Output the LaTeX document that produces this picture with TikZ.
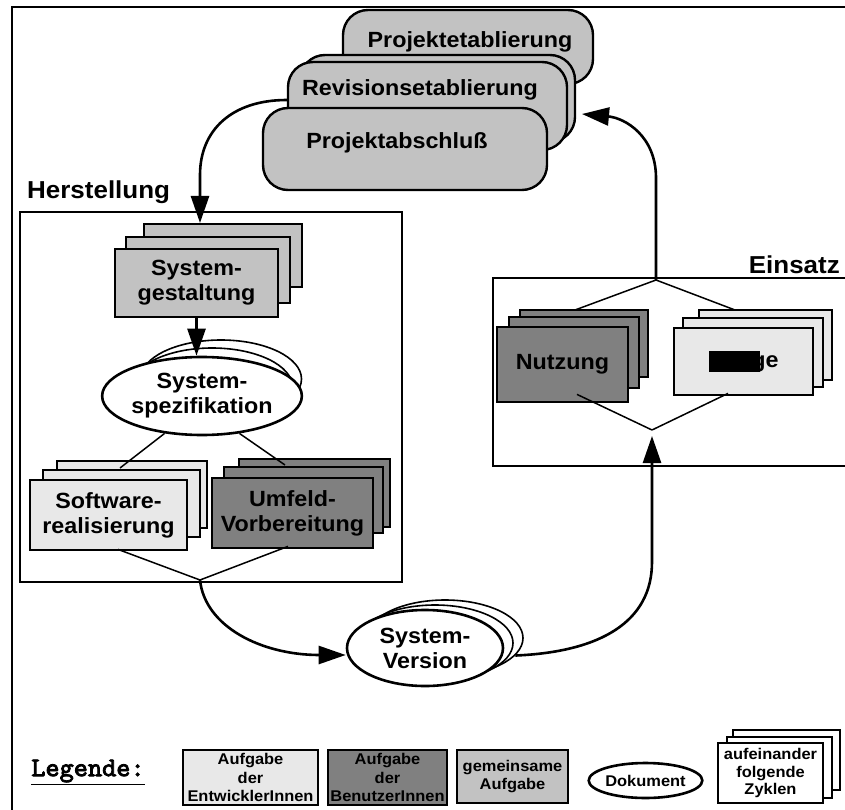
\documentclass[tikz,border=0pt]{standalone}
\usepackage{fontspec}
\setmainfont{Liberation Sans}[FakeStretch=1.06]
\newfontfamily\legmono{lmmono10-regular.otf}[AutoFakeBold=3]
\usetikzlibrary{arrows.meta,shapes.geometric}
\definecolor{cLight}{gray}{0.91}
\definecolor{cDark}{gray}{0.5}
\definecolor{cMid}{gray}{0.76}
\begin{document}
\begin{tikzpicture}[x=1pt,y=-1pt,
  txt/.style={font=\fontsize{22}{25}\selectfont\bfseries,align=center,inner sep=0pt},
  bigtxt/.style={font=\fontsize{24.5}{28}\selectfont\bfseries,inner sep=0pt},
  rbox/.style={draw,fill=cMid,rounded corners=25pt,line width=2.4pt,inner sep=0pt},
  front/.style={draw,line width=2.8pt,inner sep=0pt,align=center,
     font=\fontsize{22}{25}\selectfont\bfseries},
  backrect/.style={draw,line width=1.8pt},
  ellfront/.style={draw,fill=white,ellipse,line width=2.6pt,inner sep=0pt,align=center,
     font=\fontsize{22}{25}\selectfont\bfseries},
  ellback/.style={draw,fill=white,ellipse,line width=1.6pt,inner sep=0pt},
  frame/.style={draw,line width=1.7pt},
  conn/.style={draw,line width=1.5pt},
  arr/.style={draw,line width=2.6pt,-{Triangle[length=27pt,width=18pt]}},
  legbox/.style={draw,line width=2.6pt,inner sep=0pt,align=center,
     font=\fontsize{15.5}{18.5}\selectfont\bfseries}
]
\useasboundingbox (0,0) rectangle (845,810);
\fill[white] (0,0) rectangle (845,810);

% outer frame
\draw[line width=2pt] (12,812) -- (12,7) -- (850,7);

% ---- top rounded boxes
\node[rbox,minimum width=250,minimum height=74] (pe) at (468,47) {};
\node[txt] (pet) at (470,42) {Projektetablierung};
\node[rbox,minimum width=275,minimum height=87] (reb) at (437.5,98.5) {};
\node[rbox,minimum width=279,minimum height=88] (re) at (427.5,106) {};
\node[txt] (ret) at (420,90) {Revisionsetablierung};
\node[rbox,minimum width=284,minimum height=82] (pa) at (405,149) {};
\node[txt] (pat) at (397,143) {Projektabschluß};

% ---- Herstellung
\node[bigtxt,anchor=west] (hlab) at (27,192) {Herstellung};
\draw[frame] (20,212) rectangle (402,582);

% Systemgestaltung stack
\draw[backrect,fill=cMid] (144,224) rectangle (302,287);
\draw[backrect,fill=cMid] (126,237) rectangle (290,303);
\node[front,fill=cMid,minimum width=163,minimum height=68] (sg) at (196.5,283) {System-\\gestaltung};

% Systemspezifikation
\node[ellback,minimum width=161,minimum height=78] (spb2) at (221,379) {};
\node[ellback,minimum width=161,minimum height=78] (spb1) at (212,387) {};
\node[ellfront,minimum width=161,minimum height=78] (spec) at (202,396) {System-\\spezifikation};

% Softwarerealisierung stack
\draw[backrect,fill=cLight] (57,461) rectangle (207,528);
\draw[backrect,fill=cLight] (43,470) rectangle (200,537);
\node[front,fill=cLight,minimum width=157,minimum height=70] (sr) at (108.5,515) {Software-\\realisierung};

% Umfeld-Vorbereitung stack
\draw[backrect,fill=cDark] (239,459) rectangle (390,527);
\draw[backrect,fill=cDark] (224,467) rectangle (383,533);
\node[front,fill=cDark,minimum width=161,minimum height=70] (uv) at (292.5,513) {Umfeld-\\Vorbereitung};

% ---- Einsatz
\node[bigtxt,anchor=east] (elab) at (840,265) {Einsatz};
\draw[frame] (493,278) rectangle (860,466);

% Nutzung stack
\draw[backrect,fill=cDark] (520,310) rectangle (648,377);
\draw[backrect,fill=cDark] (509,317) rectangle (639,388);
\node[front,fill=cDark,minimum width=131,minimum height=75] (nu) at (562.5,364.5) {Nutzung};

% Pflege stack
\draw[backrect,fill=cLight] (699,310) rectangle (832,380);
\draw[backrect,fill=cLight] (683,318) rectangle (823,387);
\node[front,fill=cLight,minimum width=139,minimum height=67] (pf) at (743.5,361.5)
  {\rlap{\rule[-5pt]{51pt}{21pt}}Pflege};

% ---- System-Version
\node[ellback,minimum width=156,minimum height=76] (verb2) at (445,638) {};
\node[ellback,minimum width=156,minimum height=76] (verb1) at (435,643) {};
\node[ellfront,minimum width=156,minimum height=76] (ver) at (425,648) {System-\\Version};

% ---- named coordinates
\coordinate (hIn) at (200,223);
\coordinate (srTop) at (120,468);
\coordinate (uvTop) at (285,465);
\coordinate (hm) at (200,580);
\coordinate (et) at (656,280);
\coordinate (nuTop) at (575,310);
\coordinate (pfTop) at (735,310);
\coordinate (eb) at (652,430);
\coordinate (einIn) at (652,436);
\coordinate (peIn) at (582,114);

% ---- connectors
\draw[conn] (spec.225) -- (srTop);
\draw[conn] (spec.315) -- (uvTop);
\draw[conn] ([xshift=9.5pt,yshift=2pt]sr.south) -- (hm);
\draw[conn] ([xshift=-4.5pt,yshift=3pt]uv.south) -- (hm);
\draw[conn] (nuTop) -- (et) -- (pfTop);
\draw[conn] ([xshift=14.5pt,yshift=9pt]nu.south) -- (eb);
\draw[conn] ([xshift=-15.5pt,yshift=3pt]pf.south) -- (eb);

\draw[arr] ([yshift=6pt]re.west) .. controls (232,100) and (200,130) .. (200,175) -- (hIn);
\draw[arr] (sg.south) -- (sg.south |- spec.north);
\draw[arr] (hm) .. controls (205,627) and (262,655) .. ([yshift=-7pt]ver.west);
\draw[arr] (verb2.-14) .. controls (600,652) and (652,622) .. (652,562) -- (einIn);
\draw[arr] (et) -- (656,178) .. controls (656,136) and (625,118) .. (peIn);

% ---- Legend
\node[font=\legmono\bfseries\fontsize{27}{30}\selectfont,inner sep=0pt] (leg) at (88,772) {\underline{Legende:}};
\node[legbox,fill=cLight,minimum width=135,minimum height=55] (l1) at (250.5,777.5) {Aufgabe\\der\\EntwicklerInnen};
\node[legbox,fill=cDark,minimum width=119,minimum height=55] (l2) at (387.5,777.5) {Aufgabe\\der\\BenutzerInnen};
\node[legbox,fill=cMid,minimum width=111,minimum height=53] (l3) at (512.5,776.5) {gemeinsame\\Aufgabe};
\node[draw,ellipse,line width=2.6pt,inner sep=0pt,minimum width=105,minimum height=35,
  font=\fontsize{15.5}{18.5}\selectfont\bfseries] (l4) at (645.5,780.5) {Dokument};
\draw[backrect,fill=white] (733,730) rectangle (840,790);
\draw[backrect,fill=white] (727,737) rectangle (832,798);
\node[draw,line width=2pt,fill=white,inner sep=0pt,align=center,minimum width=105,minimum height=60,
  font=\fontsize{15.5}{17.5}\selectfont\bfseries] (l5) at (770.5,773) {aufeinander\\folgende\\Zyklen};
\end{tikzpicture}
\end{document}
